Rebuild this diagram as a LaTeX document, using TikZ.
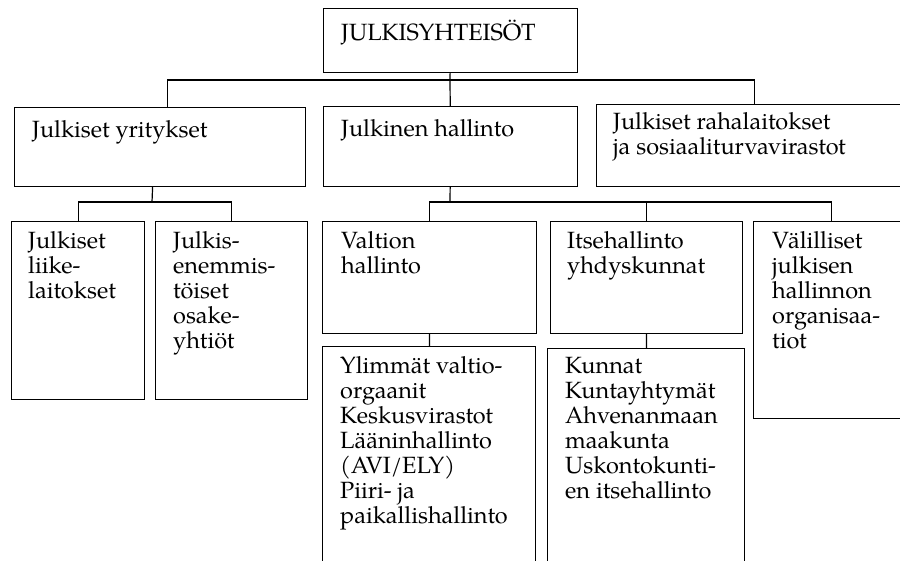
\documentclass[tikz,border=0pt]{standalone}
\usepackage{fontspec}
\setmainfont{TeX Gyre Pagella}
\usepackage{tikz}

\tikzset{
  box/.style={draw, line width=1.2pt, inner sep=0pt, anchor=north west},
  txt/.style={inner sep=0pt, anchor=north west, align=left,
    font=\fontsize{23.5}{25}\selectfont,
    execute at begin node={\rule{0pt}{20pt}}},
  conn/.style={line width=1.2pt}
}

\begin{document}
\begin{tikzpicture}[x=1pt,y=-1pt]
  \useasboundingbox (0,0) rectangle (900,560);
  \clip (0,0) rectangle (900,560);

  %ylin taso
  \node[box, minimum width=254pt, minimum height=64pt] (top) at (323,8) {};
  \node[txt] (top-t) at ([xshift=18pt,yshift=-12pt]top.north west) {JULKISYHTEISÖT};

  %toinen taso
  \node[box, minimum width=291pt, minimum height=79pt] (yri) at (14,107) {};
  \node[box, minimum width=254pt, minimum height=80pt] (hal) at (323,106) {};
  \node[box, minimum width=316pt, minimum height=82pt] (raha) at (596,104) {};
  \node[txt] (yri-t) at ([xshift=18pt,yshift=-10pt]yri.north west) {Julkiset yritykset};
  \node[txt] (hal-t) at ([xshift=18pt,yshift=-10pt]hal.north west) {Julkinen hallinto};
  \node[txt] (raha-t) at ([xshift=17pt,yshift=-8pt]raha.north west)
    {Julkiset rahalaitokset\\ja sosiaaliturvavirastot};

  %kolmas taso
  \node[box, minimum width=133pt, minimum height=178pt] (liike) at (11,221) {};
  \node[box, minimum width=152pt, minimum height=178pt] (enem) at (155,221) {};
  \node[box, minimum width=214pt, minimum height=112pt] (val) at (322,221) {};
  \node[box, minimum width=192pt, minimum height=112pt] (itse) at (550,221) {};
  \node[box, minimum width=156pt, minimum height=197pt] (vali) at (753,221) {};
  \node[txt] (liike-t) at ([xshift=17pt,yshift=-10pt]liike.north west)
    {Julkiset\\liike-\\laitokset};
  \node[txt] (enem-t) at ([xshift=18pt,yshift=-10pt]enem.north west)
    {Julkis-\\enemmis-\\töiset\\osake-\\yhtiöt};
  \node[txt] (val-t) at ([xshift=19pt,yshift=-10pt]val.north west)
    {Valtion\\hallinto};
  \node[txt] (itse-t) at ([xshift=17pt,yshift=-10pt]itse.north west)
    {Itsehallinto\\yhdyskunnat};
  \node[txt] (vali-t) at ([xshift=19pt,yshift=-10pt]vali.north west)
    {Välilliset\\julkisen\\hallinnon\\organisaa-\\tiot};

  %neljäs taso
  \node[box, minimum width=213pt, minimum height=230pt] (ylim) at (322,346) {};
  \node[box, minimum width=197pt, minimum height=230pt] (kun) at (547,348) {};
  \node[txt] (ylim-t) at ([xshift=18pt,yshift=-10pt]ylim.north west)
    {Ylimmät valtio-\\orgaanit\\Keskusvirastot\\Lääninhallinto\\(AVI/ELY)\\Piiri- ja\\paikallishallinto};
  \node[txt] (kun-t) at ([xshift=18pt,yshift=-9pt]kun.north west)
    {Kunnat\\Kuntayhtymät\\Ahvenanmaan\\maakunta\\Uskontokunti-\\en itsehallinto};

  %yhdysviivat
  \coordinate (b1) at (450,80);
  \coordinate (b2) at (152,202);
  \coordinate (b3) at (450,202);

  \draw[conn] (top) -- (b1);
  \draw[conn] ([xshift=7.5pt]yri.north) |- (b1) -| (raha.north);
  \draw[conn] (b1) -- (hal);

  \draw[conn] ([xshift=-7.5pt]yri.south) -- (b2);
  \draw[conn] (liike.north) |- (b2) -| (enem.north);

  \draw[conn] (hal) -- (b3);
  \draw[conn] (val.north) |- (b3) -| (vali.north);
  \draw[conn] (b3) -| (itse.north);

  \draw[conn] (val) -- (ylim);
  \draw[conn] (itse) -- (kun);
\end{tikzpicture}
\end{document}
